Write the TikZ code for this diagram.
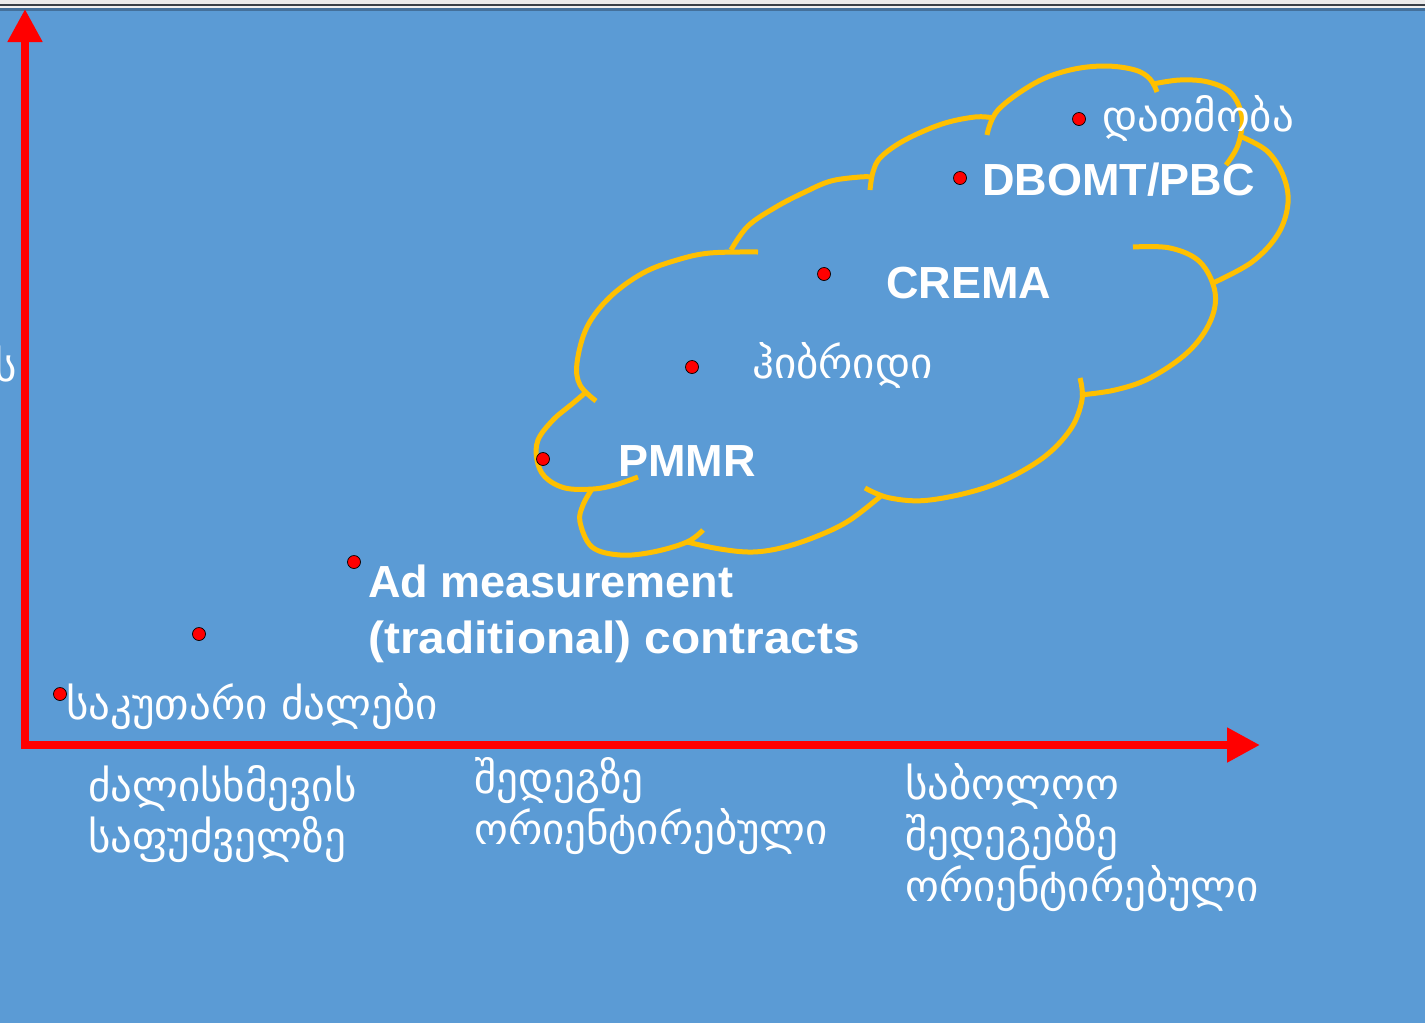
\documentclass[tikz,border=0pt]{standalone}
\usepackage{fontspec}
\setmainfont{Liberation Sans}
\newfontfamily\geo{DejaVu Sans}
\usetikzlibrary{arrows.meta}

\definecolor{slide}{HTML}{5B9BD5}
\definecolor{rule}{HTML}{3A4048}
\definecolor{ruleblue}{HTML}{44709A}
\definecolor{cloudline}{HTML}{FFC000}
\definecolor{axisred}{HTML}{FF0000}

\tikzset{
  axis/.style={draw=axisred, line width=8pt, -{Triangle[width=33pt,length=33pt]}},
  dot/.style={circle, fill=red, draw=black, line width=0.7pt, minimum size=13pt, inner sep=0pt},
  lobe/.style={draw=cloudline, line width=5pt},
  latinlabel/.style={text=white, font=\bfseries\fontsize{45}{56}\selectfont, inner sep=0pt, anchor=west, align=left},
  geolabel/.style={text=white, font=\geo\fontsize{43}{51}\selectfont, inner sep=0pt, anchor=west, align=left}
}

\begin{document}
\begin{tikzpicture}[x=1pt, y=-1pt]
  \useasboundingbox (0,0) rectangle (1425,1023);
  % slide background and top rules
  \fill[slide] (0,0) rectangle (1425,1023);
  \fill[white!92!black] (0,0) rectangle (1425,3.5);
  \fill[rule] (0,3.5) rectangle (1425,6.2);
  \fill[white!94!black] (0,6.2) rectangle (1425,8);
  \fill[ruleblue] (0,8) rectangle (1425,11);

  % cut-off axis title at the left edge
  \node[geolabel, anchor=east] (ytitle) at (17,364) {ს};

  % cloud outline, one lobe per arc
  \draw[lobe] plot[smooth, tension=0.6] coordinates {(596,401) (580,385) (577,363) (587,327) (610,297) (643,273) (677,260) (710,253) (758,252)};
  \draw[lobe] plot[smooth, tension=0.6] coordinates {(731,250) (748,226) (776,207) (805,192) (831,181) (860,177) (872,177)};
  \draw[lobe] plot[smooth, tension=0.6] coordinates {(870,190) (873,172) (881,157) (905,140) (942,124) (975,117) (994,118)};
  \draw[lobe] plot[smooth, tension=0.6] coordinates {(987,135) (998,110) (1035,83) (1070,70) (1105,66) (1135,70) (1150,79) (1157,92)};
  \draw[lobe] plot[smooth, tension=0.6] coordinates {(1153,84) (1180,80) (1208,82) (1231,93) (1242,117) (1238,145) (1226,165)};
  \draw[lobe] plot[smooth, tension=0.6] coordinates {(1242,137) (1267,151) (1283,175) (1288,203) (1278,234) (1252,262) (1213,283)};
  \draw[lobe] plot[smooth, tension=0.6] coordinates {(1133,247) (1170,248) (1200,262) (1215,292) (1210,322) (1188,352) (1150,378) (1115,390) (1080,395)};
  \draw[lobe] plot[smooth, tension=0.6] coordinates {(1080,378) (1082,400) (1070,430) (1040,460) (990,486) (930,500) (890,498) (865,488)};
  \draw[lobe] plot[smooth, tension=0.6] coordinates {(882,495) (850,520) (820,535) (785,547) (753,552) (720,549) (687,542)};
  \draw[lobe] plot[smooth, tension=0.6] coordinates {(703,530) (687,542) (653,552) (620,555) (592,547) (580,522) (583,505) (592,489)};
  \draw[lobe] plot[smooth, tension=0.6] coordinates {(638,477) (615,485) (593,489) (565,488) (545,477) (537,460) (538,440) (553,420) (572,404) (585,393)};

  % axes
  \coordinate (corner) at (25,745);
  \coordinate (ytip) at (25,9);
  \coordinate (xtip) at (1260,745);
  \draw[axis] (25,749) -- (ytip);
  \draw[axis] (21,745) -- (xtip);

  % points
  \node[dot] (own)   at (60,694)  {};
  \node[dot] (effort) at (199,634) {};
  \node[dot] (adm)   at (354,562) {};
  \node[dot] (pmmr)  at (543,459) {};
  \node[dot] (hyb)   at (692,367) {};
  \node[dot] (crema) at (824,274) {};
  \node[dot] (dbomt) at (960,178) {};
  \node[dot] (conc)  at (1079,119) {};

  % point labels
  \node[geolabel] (lconc)  at (1102,118) {დათმობა};
  \node[latinlabel] (ldbomt) at (982,180) {DBOMT/PBC};
  \node[latinlabel] (lcrema) at (886,283) {CREMA};
  \node[geolabel] (lhyb)   at (752,365) {ჰიბრიდი};
  \node[latinlabel] (lpmmr)  at (618,461) {PMMR};
  \node[latinlabel] (ladm)   at (368,614) {Ad measurement\\\scalebox{1.063}[1]{(traditional) contracts}};
  \node[geolabel] (lown)   at (66,707) {საკუთარი ძალები};

  % x-axis categories
  \node[geolabel] (cat1) at (88,814) {ძალისხმევის\\საფუძველზე};
  \node[geolabel] (cat2) at (474,806) {შედეგზე\\ორიენტირებული};
  \node[geolabel] (cat3) at (905,838) {საბოლოო\\შედეგებზე\\ორიენტირებული};
\end{tikzpicture}
\end{document}
